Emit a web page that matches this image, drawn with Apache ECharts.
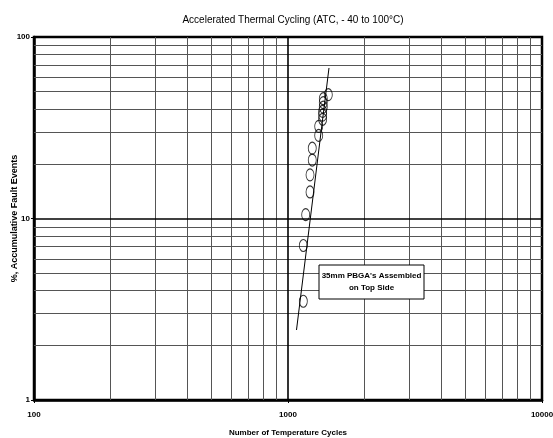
<!DOCTYPE html>
<html>
<head>
<meta charset="utf-8">
<script src="https://cdn.jsdelivr.net/npm/echarts@6/dist/echarts.min.js"></script>
<style>
html,body{margin:0;padding:0;background:#fff;}
#chart{width:553px;height:438px;}
</style>
</head>
<body>
<div id="chart"></div>
<script>
// Data
var cycles = [1149, 1149, 1174, 1221, 1221, 1246, 1246, 1321, 1321, 1369, 1369, 1369, 1377, 1377, 1377, 1441];
var faultPct = [3.5, 7.1, 10.5, 14.0, 17.4, 21.0, 24.4, 28.7, 32.2, 35.2, 37.1, 38.9, 41.1, 43.5, 45.7, 48.1];
var fitCycles = [1080, 1450];
var fitPct = [2.43, 67.5];
var xMinorGrid = [200, 300, 400, 500, 600, 700, 800, 900, 2000, 3000, 4000, 5000, 6000, 7000, 8000, 9000];
var yMinorGrid = [2, 3, 4, 5, 6, 7, 8, 9, 20, 30, 40, 50, 60, 70, 80, 90];
var yMajorGrid = [10];
var xMajorGrid = [1000];
var titleText = 'Accelerated Thermal Cycling (ATC, - 40 to 100\u00B0C)';
var xName = 'Number of Temperature Cycles';
var yName = '%, Accumulative Fault Events';
var noteLines = ["35mm PBGA's Assembled", 'on Top Side'];

var FONT = "'Liberation Sans',Arial,sans-serif";
var chart = echarts.init(document.getElementById('chart'), null, {renderer: 'canvas'});

var scatterData = cycles.map(function (c, i) { return [c, faultPct[i]]; });
var fitData = fitCycles.map(function (c, i) { return [c, fitPct[i]]; });

var gridLines = [];
xMinorGrid.forEach(function (v) { gridLines.push({xAxis: v, lineStyle: {color: '#555', width: 1, type: 'solid'}}); });
yMinorGrid.forEach(function (v) { gridLines.push({yAxis: v, lineStyle: {color: '#555', width: 1, type: 'solid'}}); });
xMajorGrid.forEach(function (v) { gridLines.push({xAxis: v, lineStyle: {color: '#000', width: 1.6, type: 'solid'}}); });
yMajorGrid.forEach(function (v) { gridLines.push({yAxis: v, lineStyle: {color: '#000', width: 1.6, type: 'solid'}}); });

function plainNum(v) { return String(Math.round(v)); }

chart.setOption({
  animation: false,
  backgroundColor: '#fff',
  title: {
    text: titleText,
    left: 288, top: 10, textAlign: 'center',
    textStyle: {fontFamily: FONT, fontSize: 10, fontWeight: 'normal', color: '#000'}
  },
  grid: {left: 34, right: 11, top: 37, bottom: 38, containLabel: false, outerBoundsMode: 'none',
         show: true, borderColor: '#000', borderWidth: 2.5, backgroundColor: 'transparent'},
  xAxis: {
    type: 'log', logBase: 10, min: 100, max: 10000,
    name: xName, nameLocation: 'middle', nameGap: 29, nameMoveOverlap: false,
    nameTextStyle: {fontFamily: FONT, fontSize: 8, fontWeight: 'bold', color: '#000'},
    axisLine: {show: true, lineStyle: {color: '#000', width: 2.5}},
    axisTick: {show: true, length: 3, lineStyle: {color: '#000'}},
    axisLabel: {fontFamily: FONT, fontSize: 8, fontWeight: 'bold', color: '#000', margin: 11, formatter: plainNum},
    splitLine: {show: false}
  },
  yAxis: {
    type: 'log', logBase: 10, min: 1, max: 100,
    name: yName, nameLocation: 'middle', nameGap: 15, nameRotate: 90, nameMoveOverlap: false,
    nameTextStyle: {fontFamily: FONT, fontSize: 9, fontWeight: 'bold', color: '#000'},
    axisLine: {show: true, lineStyle: {color: '#000', width: 2.5}},
    axisTick: {show: true, length: 3, lineStyle: {color: '#000'}},
    axisLabel: {fontFamily: FONT, fontSize: 8, fontWeight: 'bold', color: '#000', margin: 4, formatter: plainNum},
    splitLine: {show: false}
  },
  series: [
    {
      type: 'line', data: fitData, showSymbol: false, symbol: 'none',
      lineStyle: {color: '#000', width: 1}, z: 3,
      markLine: {silent: true, symbol: 'none', label: {show: false}, data: gridLines, z: 1}
    },
    {
      type: 'scatter', data: scatterData, symbol: 'circle', symbolSize: [8, 12],
      itemStyle: {color: 'rgba(0,0,0,0)', borderColor: '#000', borderWidth: 1}, z: 4
    }
  ],
  graphic: [
    {type: 'rect', zlevel: 1, z: 100,
     shape: {x: 319, y: 265, width: 105, height: 34}, style: {fill: '#fff', stroke: '#000', lineWidth: 1}},
    {type: 'text', zlevel: 1, z: 101, x: 371.5, y: 282,
     style: {text: noteLines.join('\n'), fontFamily: FONT, fontSize: 8, fontWeight: 'bold', fill: '#000',
             align: 'center', verticalAlign: 'middle', lineHeight: 12}}
  ]
});
</script>
</body>
</html>
